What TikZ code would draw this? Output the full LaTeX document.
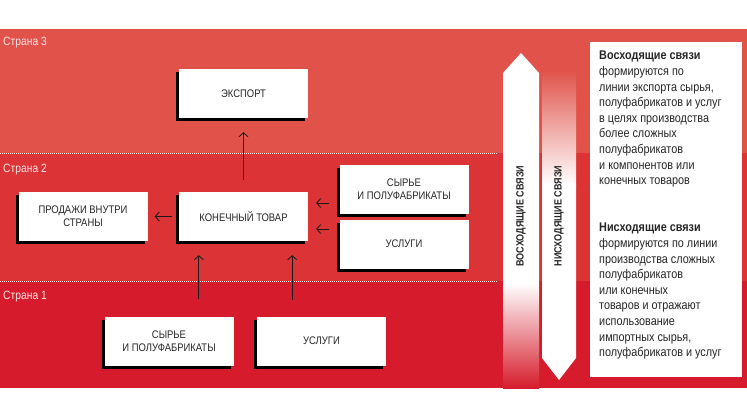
\documentclass[tikz,border=0pt]{standalone}
\usepackage{fontspec}
\setmainfont{Liberation Sans}[FakeStretch=0.86]
\usepackage{xcolor}
\usetikzlibrary{arrows.meta}
\usetikzlibrary{shadows}
\definecolor{band3}{RGB}{224,82,74}
\definecolor{band2}{RGB}{220,52,54}
\definecolor{band1}{RGB}{214,28,44}
\definecolor{ink}{RGB}{38,38,38}
\colorlet{lbl}{white!85!band3}
\tikzset{
	box/.style={fill=white,minimum width=129pt,minimum height=49pt,
		inner sep=2pt,align=center,text=ink,
		font=\fontsize{11}{13}\selectfont,
		drop shadow={shadow xshift=-3pt,shadow yshift=-3pt,opacity=1,fill=black}},
	conn/.style={-{Straight Barb[length=4pt,width=9pt]},line width=0.8pt,draw=black!90},
	lvl/.style={anchor=west,text=lbl,inner sep=0pt,font=\fontsize{12}{14}\selectfont},
	sep/.style={white,line width=1pt,dash pattern=on 1pt off 1pt},
	bigtxt/.style={rotate=90,text=ink,inner sep=0pt,font=\bfseries\fontsize{10.5}{12}\selectfont},
	note/.style={anchor=north west,align=left,text=ink,inner sep=0pt,
		font=\fontsize{12.6}{15.6}\selectfont}
}

\begin{document}
\begin{tikzpicture}[x=1pt,y=-1pt]
	\useasboundingbox (0,0) rectangle (747,418);
	
	% BANDS
	\fill[band3] (0,29) rectangle (747,153);
	\fill[band2] (0,153) rectangle (747,281);
	\fill[band1] (0,281) rectangle (747,388);
	\draw[sep] (0,153) -- (497,153);
	\draw[sep] (0,281) -- (497,281);
	\node[lvl] (c3) at (3,43) {Страна 3};
	\node[lvl] (c2) at (3,170) {Страна 2};
	\node[lvl] (c1) at (3,297) {Страна 1};
	
	% BOXES
	\node[box] (export) at (243.5,93.5) {ЭКСПОРТ};
	\node[box] (sales) at (83,216.5) {ПРОДАЖИ ВНУТРИ\\СТРАНЫ};
	\node[box] (final) at (243.5,216.5) {КОНЕЧНЫЙ ТОВАР};
	\node[box] (raw2) at (404,189) {СЫРЬЕ\\И ПОЛУФАБРИКАТЫ};
	\node[box] (serv2) at (404,244) {УСЛУГИ};
	\node[box] (raw1) at (169,341) {СЫРЬЕ\\И ПОЛУФАБРИКАТЫ};
	\node[box] (serv1) at (321.5,341) {УСЛУГИ};
	
	% ARROWS
	\coordinate (f1) at ([yshift=13.5pt]final.east);
	\coordinate (f2) at ([yshift=-12.5pt]final.east);
	\coordinate (f3) at ([xshift=20pt]final.south west);
	\coordinate (f4) at ([xshift=-16pt]final.south east);
	\draw[conn,shorten <=12pt,shorten >=14pt] (final) -- (export);
	\draw[conn,shorten <=7pt,shorten >=7pt] (final) -- (sales);
	\draw[conn,shorten <=10pt,shorten >=8pt] (raw2.west |- f1) -- (f1);
	\draw[conn,shorten <=10pt,shorten >=8pt] (serv2.west |- f2) -- (f2);
	\draw[conn,shorten <=17pt,shorten >=14pt] (raw1.north -| f3) -- (f3);
	\draw[conn,shorten <=16pt,shorten >=14pt] (serv1.north -| f4) -- (f4);
	
	% UP AND DOWN
	\fill[white] (503,283) -- (503,73) -- (521,53) -- (539,73) -- (539,283) -- cycle;
	\shade[top color=white,bottom color=band1] (503,283) rectangle (539,388);
	\shade[top color=band3,bottom color=white] (542,70) rectangle (576,185);
	\fill[white] (542,185) -- (576,185) -- (576,358) -- (559,380) -- (542,358) -- cycle;
	\node[bigtxt] (up) at (521,216) {ВОСХОДЯЩИЕ СВЯЗИ};
	\node[bigtxt] (down) at (559,216) {НИСХОДЯЩИЕ СВЯЗИ};
	
	% LEGEND
	\fill[white] (590,42) rectangle (742,377);
	\node[note] (upnote) at (599,51) {\textbf{Восходящие связи}\\формируются по\\линии экспорта сырья,\\полуфабрикатов и услуг\\в целях производства\\более сложных\\полуфабрикатов\\и компонентов или\\конечных товаров};
	\node[note] (downnote) at (599,223) {\textbf{Нисходящие связи}\\формируются по линии\\производства сложных\\полуфабрикатов\\или конечных\\товаров и отражают\\использование\\импортных сырья,\\полуфабрикатов и услуг};
\end{tikzpicture}
\end{document}
